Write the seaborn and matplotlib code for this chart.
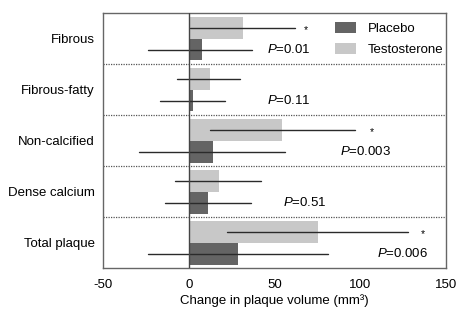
import matplotlib
matplotlib.use("Agg")
import matplotlib.pyplot as plt
import seaborn as sns
import pandas as pd
import numpy as np
from matplotlib.patches import Patch

categories = ["Fibrous", "Fibrous-fatty", "Non-calcified", "Dense calcium", "Total plaque"]
groups = ["Testosterone", "Placebo"]
testo_mean = [31.5, 12.5, 54.5, 17.5, 75.5]
testo_low = [0.5, -7, 12, -8, 22]
testo_high = [62, 30, 97, 42, 128]
placebo_mean = [7.5, 2.5, 14, 11, 28.5]
placebo_low = [-24, -17, -29, -14, -24]
placebo_high = [37, 21, 56, 36, 81]
p_labels = ["0.01", "0.11", "0.003", "0.51", "0.006"]
p_x = [45.5, 45.5, 88, 55, 110]
star_flags = [True, False, True, False, True]
star_x = [67, None, 105.5, None, 135.5]
xticks = [-50, 0, 50, 100, 150]

sns.set_style("white")
plt.rcParams['font.family'] = ['Liberation Sans', 'DejaVu Sans']
plt.rcParams['mathtext.fontset'] = 'custom'
plt.rcParams['mathtext.it'] = 'Liberation Sans:italic'
plt.rcParams['mathtext.rm'] = 'Liberation Sans'
plt.rcParams['text.color'] = 'black'
plt.rcParams['xtick.color'] = 'black'
plt.rcParams['ytick.color'] = 'black'
plt.rcParams['axes.labelcolor'] = 'black'

df = pd.DataFrame({
    "category": categories * 2,
    "group": ["Testosterone"] * 5 + ["Placebo"] * 5,
    "value": testo_mean + placebo_mean,
})

colors = {"Testosterone": "#c8c8c8", "Placebo": "#646464"}

fig, ax = plt.subplots(figsize=(4.57, 3.11), dpi=100)
fig.subplots_adjust(left=0.226, right=0.976, top=0.958, bottom=0.138)

sns.barplot(data=df, y="category", x="value", hue="group", hue_order=groups,
            order=categories, palette=colors, orient="h", width=0.86,
            errorbar=None, ax=ax, legend=False, linewidth=0, saturation=1)

# error bars at bar centres
lows = {"Testosterone": testo_low, "Placebo": placebo_low}
highs = {"Testosterone": testo_high, "Placebo": placebo_high}
centers = {}
for gi, g in enumerate(groups):
    patches = ax.patches[gi * len(categories):(gi + 1) * len(categories)]
    ys = [p.get_y() + p.get_height() / 2 for p in patches]
    centers[g] = ys
    for y, lo, hi in zip(ys, lows[g], highs[g]):
        ax.plot([lo, hi], [y, y], color="#2a2a2a", lw=1.0, zorder=3)

fs = 9.5
for i in range(len(categories)):
    ax.text(p_x[i], centers["Placebo"][i], "$\\it{P}$=" + p_labels[i],
            ha="left", va="center", fontsize=fs, color="black")
    if star_flags[i]:
        ax.text(star_x[i], centers["Testosterone"][i] + 0.05, "*", ha="left",
                va="center", fontsize=7.5, color="black")

# separators
for i in range(len(categories) - 1):
    ax.axhline(i + 0.5, color="#555555", lw=0.9, ls=(0, (1, 1)), zorder=1)

ax.axvline(0, color="#444444", lw=1.0, zorder=4)

ax.set_xlim(-50, 150)
ax.set_ylim(len(categories) - 0.5, -0.5)
ax.set_xticks(xticks)
ax.set_xticklabels([str(t) for t in xticks], fontsize=fs)
ax.tick_params(axis="y", labelsize=fs, length=0, pad=6)
ax.tick_params(axis="x", length=0, pad=8)
ax.set_ylabel("")
ax.set_xlabel("Change in plaque volume (mm³)", fontsize=fs, labelpad=2)
for s in ax.spines.values():
    s.set_color("#666666")
    s.set_linewidth(1.0)

handles = [Patch(facecolor=colors["Placebo"], edgecolor="none", label="Placebo"),
           Patch(facecolor=colors["Testosterone"], edgecolor="none", label="Testosterone")]
ax.legend(handles=handles, loc="upper right", frameon=False, fontsize=fs,
          bbox_to_anchor=(1.02, 1.0), handlelength=1.6, handleheight=0.9,
          handletextpad=0.9, labelspacing=0.6, borderaxespad=0.3)

fig.savefig("out.png", dpi=100)
